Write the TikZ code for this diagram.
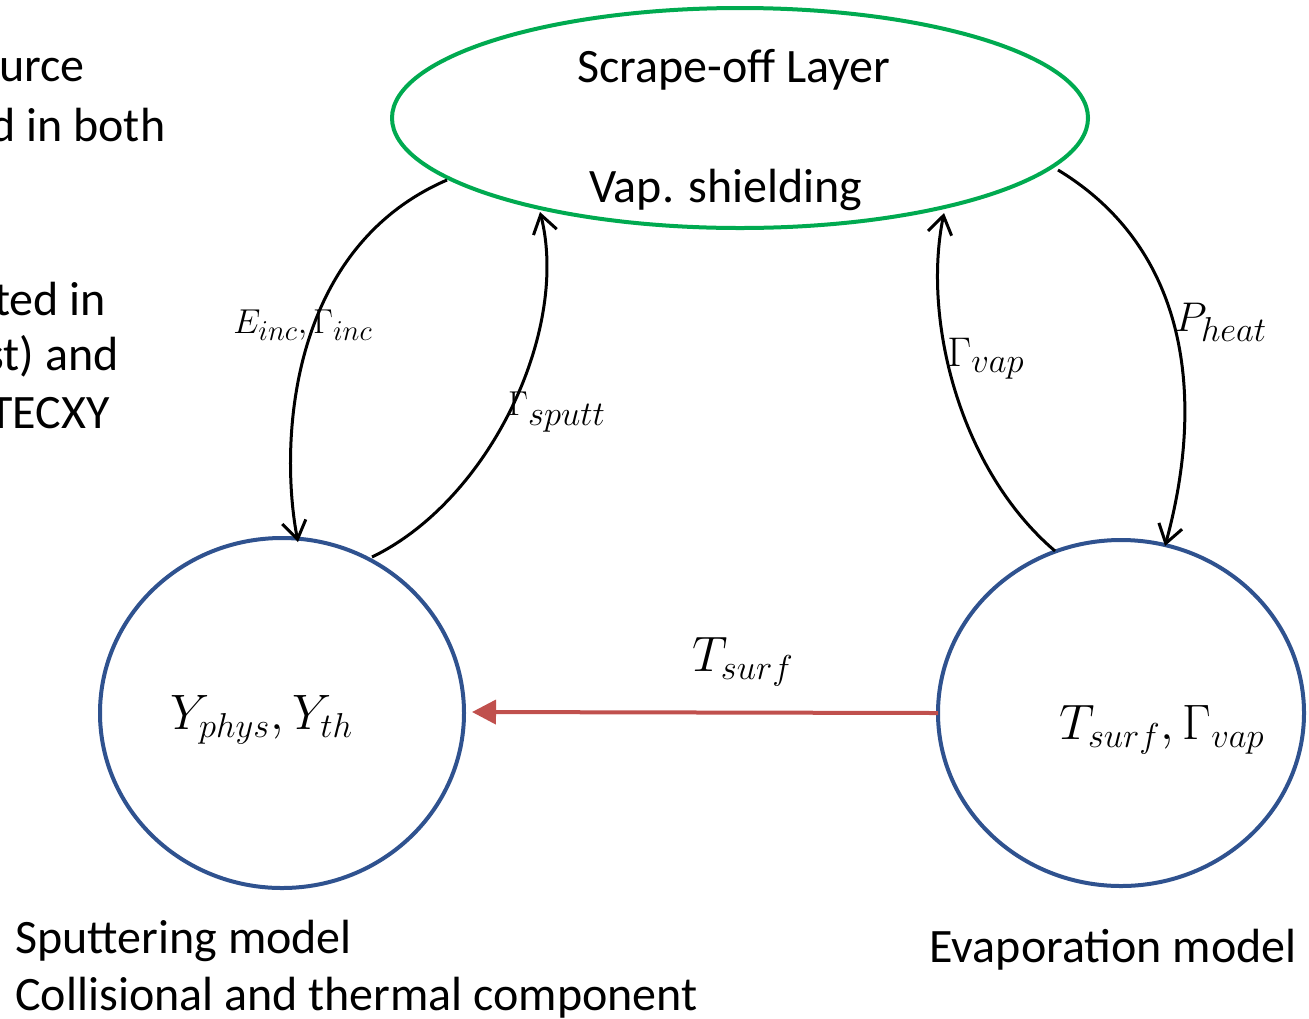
\documentclass[tikz,border=0pt]{standalone}
\usepackage{fontspec}
\setmainfont{Carlito}
\usetikzlibrary{arrows.meta,shapes.geometric}
\DeclareMathSizes{26}{26}{19}{14}
\DeclareMathSizes{19}{19}{14.5}{11}
\DeclareMathSizes{18}{18}{16}{12}
\DeclareMathSizes{22}{22}{17.5}{13}
\definecolor{ellgreen}{RGB}{0,170,80}
\definecolor{circblue}{RGB}{47,82,143}
\definecolor{arrred}{RGB}{192,80,77}
\tikzset{
  txt/.style={font=\fontsize{24}{28}\selectfont, inner sep=0pt},
  mbig/.style={font=\fontsize{26}{30}\selectfont, inner sep=0pt},
  mlab/.style={font=\fontsize{22}{26}\selectfont, inner sep=0pt},
  mlabe/.style={font=\fontsize{19}{22}\selectfont, inner sep=0pt},
  mlabs/.style={font=\fontsize{18}{21}\selectfont, inner sep=0pt},
  flow/.style={draw=black, line width=1.5pt, -{Straight Barb[length=9pt,width=12pt,line width=1.5pt]}},
  model/.style={draw=circblue, line width=2pt},
}
\begin{document}
\begin{tikzpicture}[x=0.5pt,y=-0.5pt]
\useasboundingbox (0,0) rectangle (1309,1018);
\clip (0,0) rectangle (1309,1018);
% cut-off text at left edge (as in the reference)
\node[txt, anchor=west] (t1) at (-1,70) {urce};
\node[txt, anchor=west] (t2) at (-10,125) {d in both};
\node[txt, anchor=west] (t3) at (-6,299) {ted in};
\node[txt, anchor=west] (t4) at (-15,356) {st) and};
\node[txt, anchor=west] (t5) at (-11,413) {TECXY};
% shapes
\draw[draw=ellgreen, line width=2pt] (740,118) ellipse [x radius=348, y radius=110];
\node[txt] (sol1) at (734,70) {Scrape-off Layer};
\node[txt] (sol2) at (726,190) {Vap. shielding};
\draw[model] (282,713) ellipse [x radius=182, y radius=175];
\draw[model] (1121,713) ellipse [x radius=183, y radius=173];
\node[mbig] (sp) at (262,720) {$Y_{phys},Y_{th}$};
\node[mbig] (ev) at (1162,730) {$T_{surf},\Gamma_{vap}$};
% anchor points on the outlines
\coordinate (a1s) at (447,180);
\coordinate (a1e) at (298,542);
\coordinate (a2s) at (372,557);
\coordinate (a2e) at (540,212);
\coordinate (a3s) at (1055,551);
\coordinate (a3e) at (944,213);
\coordinate (a4s) at (1058,170);
\coordinate (a4e) at (1165,546);
\coordinate (rs) at (938,713);
\coordinate (re) at (472,712);
% connectors
\draw[flow] (a1s) .. controls (285,250) and (280,450) .. (a1e);
\draw[flow] (a2s) .. controls (490,500) and (570,330) .. (a2e);
\draw[flow] (a3s) .. controls (960,470) and (922,320) .. (a3e);
\draw[flow] (a4s) .. controls (1190,250) and (1205,400) .. (a4e);
\draw[draw=arrred, line width=2pt, -{Triangle[length=12pt,width=12pt]}] (rs) -- (re);
% labels
\node[mlabe] (l1) at (303,325) {$E_{inc},\Gamma_{inc}$};
\node[mlabs] (l2) at (557,412) {$\Gamma_{sputt}$};
\node[mlab] (l3) at (986,359) {$\Gamma_{vap}$};
\node[mlab] (l4) at (1221,322) {$P_{heat}$};
\node[mbig] (l5) at (743,662) {$T_{surf}$};
% captions
\node[txt, anchor=west] (c1) at (15,941) {Sputtering model};
\node[txt, anchor=west] (c2) at (15,998) {Collisional and thermal component};
\node[txt] (c3) at (1113,950) {Evaporation model};
\end{tikzpicture}
\end{document}
